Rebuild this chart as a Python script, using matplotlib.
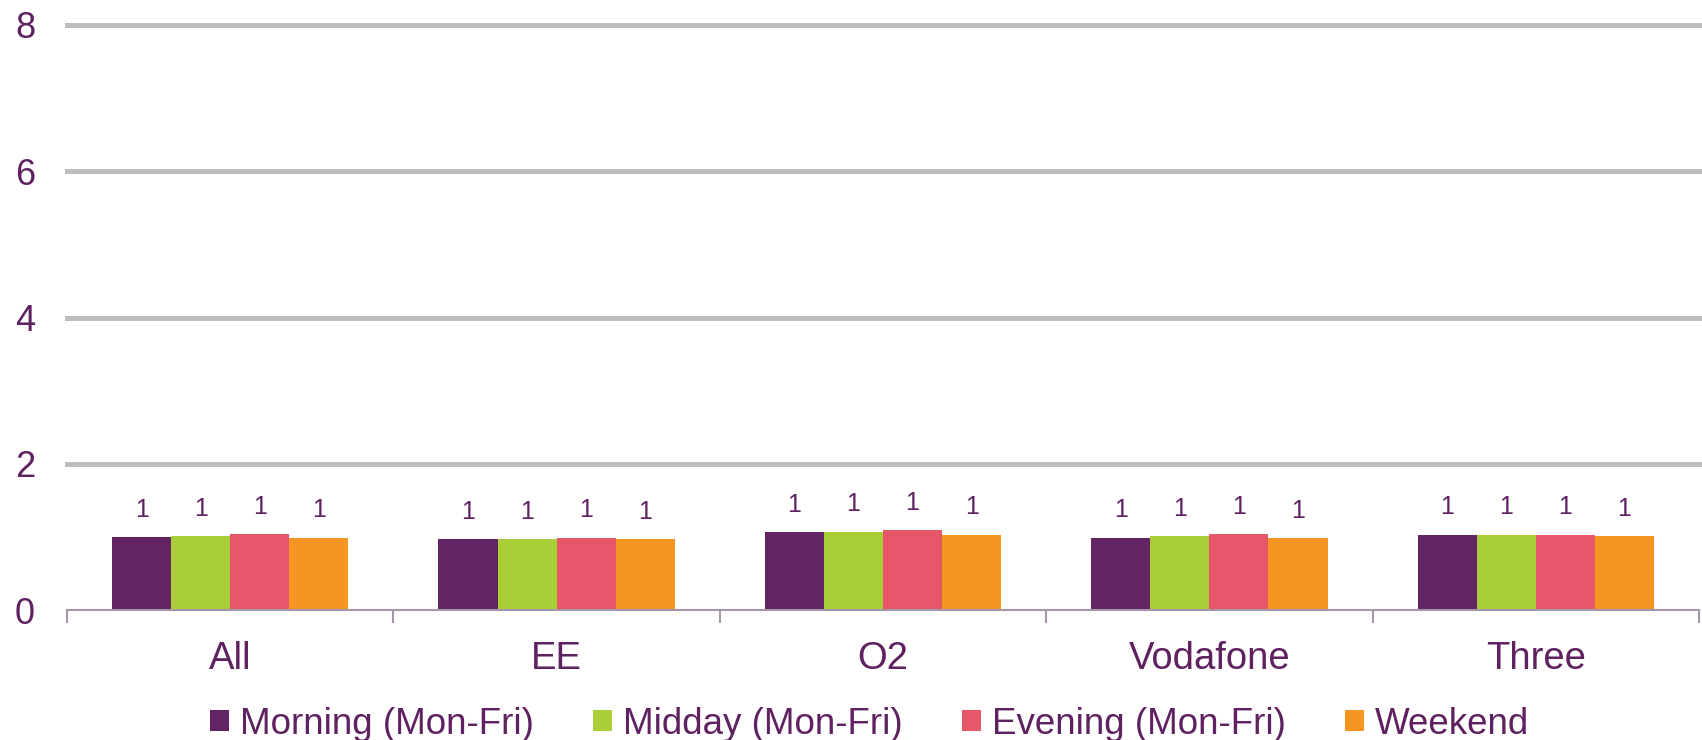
import matplotlib
matplotlib.use("Agg")
import matplotlib.pyplot as plt
import numpy as np
from matplotlib.patches import Patch

categories = ["All", "EE", "O2", "Vodafone", "Three"]
series_names = ["Morning (Mon-Fri)", "Midday (Mon-Fri)", "Evening (Mon-Fri)", "Weekend"]
morning = [1.00, 0.97, 1.06, 0.99, 1.03]
midday = [1.01, 0.97, 1.07, 1.01, 1.03]
evening = [1.04, 0.99, 1.09, 1.04, 1.03]
weekend = [0.99, 0.97, 1.03, 0.98, 1.01]
y_ticks = [0, 2, 4, 6, 8]

colors = ["#622462", "#a9ce38", "#e55769", "#f69522"]
text_col = "#5f2160"

plt.rcParams["font.family"] = ["Liberation Sans", "DejaVu Sans"]

fig = plt.figure(figsize=(17.02, 7.40), dpi=100)
ax = fig.add_axes([67 / 1702, 1 - 610 / 740, (1699 - 67) / 1702, (610 - 25) / 740])

x = np.arange(len(categories))
width = 0.181
all_series = [morning, midday, evening, weekend]
for i, (vals, col) in enumerate(zip(all_series, colors)):
    pos = x + (i - 1.5) * width
    bars = ax.bar(pos, vals, width, color=col, zorder=3)
    for b, v in zip(bars, vals):
        ax.annotate(f"{v:.0f}", (b.get_x() + b.get_width() / 2, v),
                    xytext=(0, 11), textcoords="offset points",
                    ha="center", va="bottom", fontsize=18, color=text_col)

ax.set_xlim(-0.5, len(categories) - 0.5)
ax.set_ylim(0, 8)
ax.set_yticks(y_ticks)
ax.set_yticklabels([str(t) for t in y_ticks])
for t in y_ticks[1:]:
    ax.axhline(t, color="#bebebe", lw=3.6, zorder=1, clip_on=False, xmax=1.01)

ax.set_xticks(x)
ax.set_xticklabels(categories)
ax.set_xticks(np.arange(-0.5, len(categories)), minor=True)
ax.tick_params(axis="x", which="major", length=0, pad=22, labelsize=27.5, labelcolor=text_col)
ax.tick_params(axis="x", which="minor", length=9, width=1.5, color="#a597a9", direction="out")
ax.tick_params(axis="y", length=0, pad=23, labelsize=26, labelcolor=text_col)

for s in ["top", "right", "left"]:
    ax.spines[s].set_visible(False)
ax.spines["bottom"].set_color("#a597a9")
ax.spines["bottom"].set_linewidth(1.5)
ax.spines["bottom"].set_zorder(4)

handles = [Patch(facecolor=c, edgecolor="none") for c in colors]
fig.legend(handles, series_names, loc="center", bbox_to_anchor=(0.511, 1 - 724 / 740),
           ncol=4, frameon=False, handlelength=0.52, handleheight=0.52,
           handletextpad=0.3, columnspacing=1.6,
           prop={"size": 26.5}, labelcolor=text_col)

fig.savefig("out.png", dpi=100)
